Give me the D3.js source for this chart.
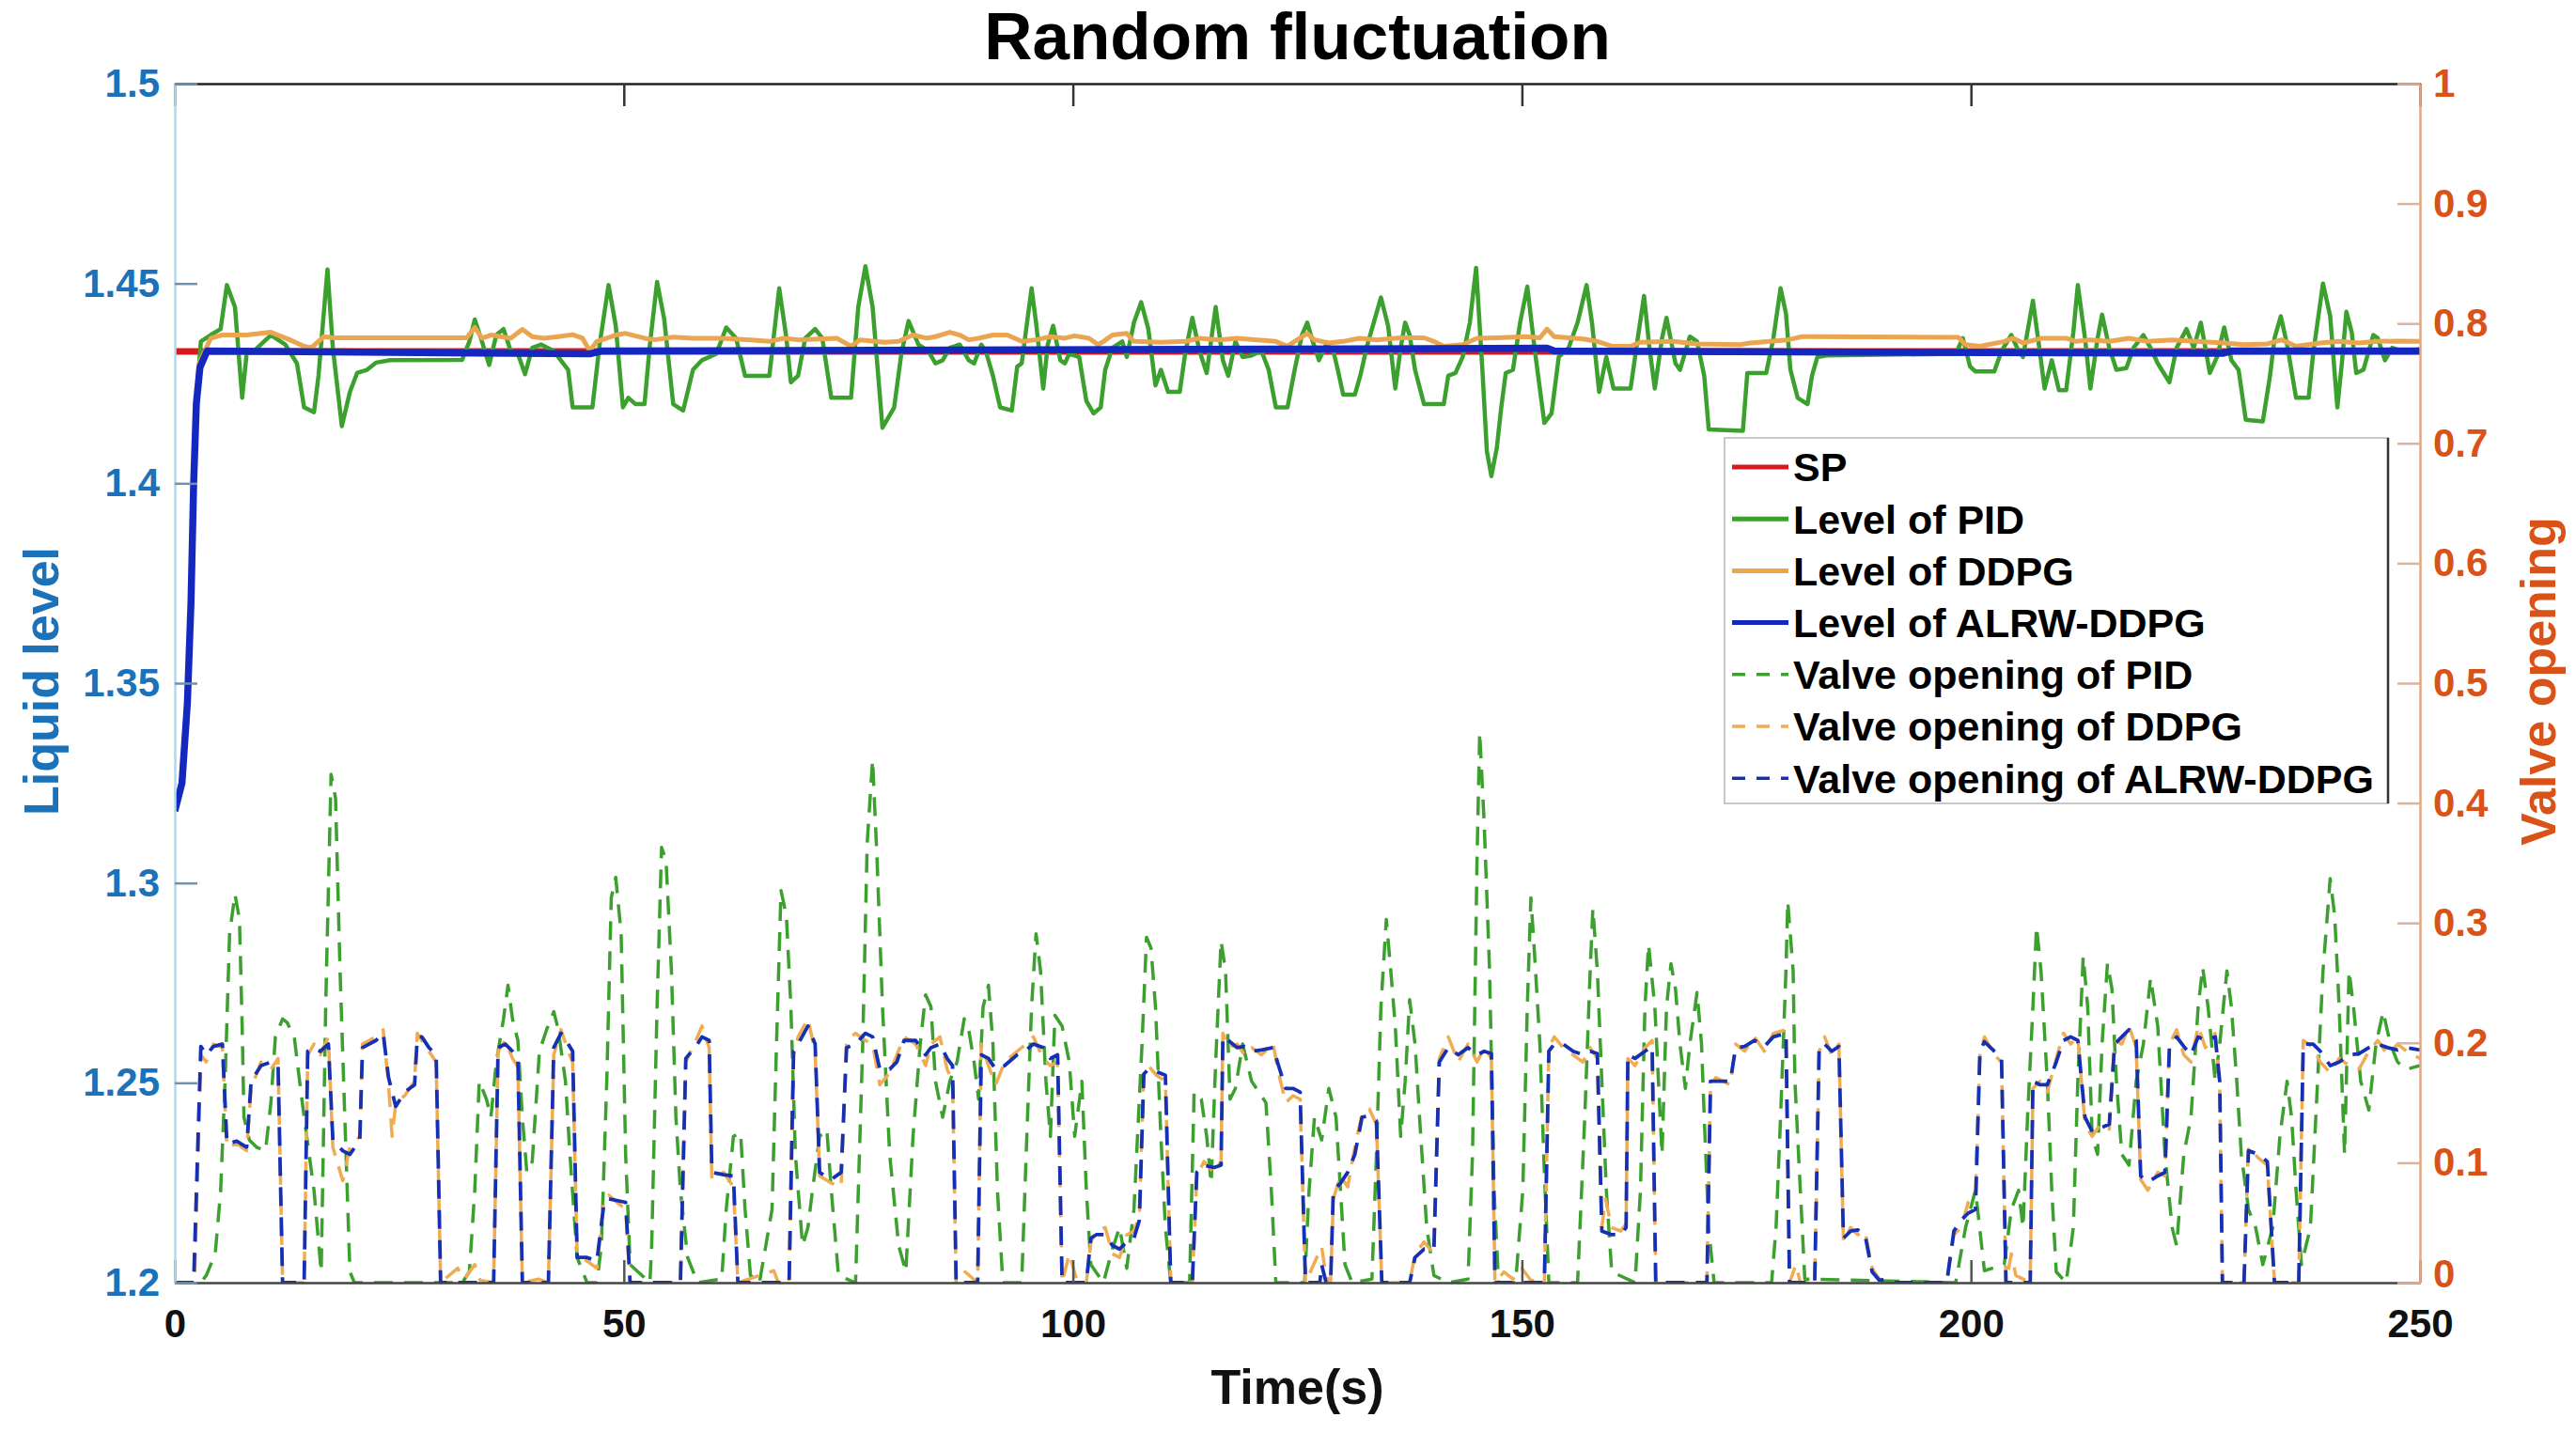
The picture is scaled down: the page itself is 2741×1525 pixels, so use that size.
<!DOCTYPE html>
<html>
<head>
<meta charset="utf-8">
<script src="https://cdn.jsdelivr.net/npm/d3@7"></script>
<style>
  body { margin: 0; background: #fff; }
  text { font-family: "Liberation Sans", Arial, sans-serif; font-weight: bold; }
</style>
</head>
<body>
<div id="chart"></div>
<script>
// ---- data: [time (s), value] ----
const spLevel = [[0, 1.433], [250, 1.433]];

const alrwLevel = [[0, 1.318], [0.8, 1.325], [1.4, 1.345], [1.8, 1.37], [2.1, 1.40], [2.4, 1.42], [2.8, 1.429],
  [3.6, 1.4331], [46.2, 1.4324], [47.5, 1.4331], [152.8, 1.4338], [153.6, 1.4331], [228.0, 1.4325], [229.0, 1.4331], [250, 1.4331]];

const pidLevel = [[0, 1.318], [0.8, 1.325], [1.4, 1.345], [1.8, 1.37], [2.1, 1.40], [2.4, 1.42], [2.9, 1.4355], [4.0, 1.4371],
  [5.1, 1.4386], [5.8, 1.4496], [6.7, 1.4441], [7.5, 1.4214], [8.0, 1.4324], [8.8, 1.4331], [10.7, 1.4371], [12.3, 1.4347],
  [13.6, 1.4300], [14.4, 1.4190], [15.5, 1.4178], [16.0, 1.4269], [17.0, 1.4535], [17.6, 1.4339], [18.6, 1.4143], [19.5, 1.4229],
  [20.3, 1.4276], [21.4, 1.4284], [22.4, 1.4302], [24.0, 1.4308], [32.0, 1.4309], [32.8, 1.4355], [33.4, 1.4410], [34.2, 1.4355],
  [35.0, 1.4296], [35.8, 1.4371], [36.6, 1.4386], [37.4, 1.4331], [38.2, 1.4324], [39.0, 1.4273], [39.8, 1.4339], [40.8, 1.4347],
  [42.2, 1.4331], [43.8, 1.4284], [44.3, 1.4190], [46.5, 1.4190], [47.3, 1.4347], [48.3, 1.4496], [49.1, 1.4394], [49.9, 1.4190],
  [50.5, 1.4214], [51.3, 1.4198], [52.3, 1.4198], [52.9, 1.4347], [53.7, 1.4504], [54.5, 1.4410], [55.5, 1.4198], [56.6, 1.4182],
  [57.7, 1.4284], [58.7, 1.4308], [60.3, 1.4324], [61.4, 1.4390], [62.5, 1.4363], [63.5, 1.4269], [66.2, 1.4269], [67.3, 1.4488],
  [68.1, 1.4363], [68.6, 1.4253], [69.4, 1.4269], [70.2, 1.4363], [71.3, 1.4386], [72.1, 1.4363], [73.1, 1.4214], [75.3, 1.4214],
  [76.1, 1.4441], [76.9, 1.4543], [77.7, 1.4441], [78.8, 1.4139], [80.1, 1.4190], [80.9, 1.4324], [81.7, 1.4406], [82.8, 1.4347],
  [83.9, 1.4331], [84.7, 1.4300], [85.5, 1.4308], [86.3, 1.4339], [87.4, 1.4347], [88.4, 1.4308], [89.0, 1.4300], [89.8, 1.4347],
  [90.3, 1.4331], [91.1, 1.4269], [91.9, 1.4190], [93.2, 1.4182], [93.8, 1.4292], [94.3, 1.4300], [95.4, 1.4488], [95.9, 1.4402],
  [96.7, 1.4237], [97.2, 1.4347], [97.8, 1.4394], [98.6, 1.4308], [99.1, 1.4300], [99.6, 1.4324], [100.7, 1.4316], [101.5, 1.4206],
  [102.3, 1.4175], [103.1, 1.4190], [103.6, 1.4284], [104.4, 1.4339], [105.5, 1.4355], [106.0, 1.4316], [106.8, 1.4402], [107.6, 1.4453],
  [108.4, 1.4386], [109.2, 1.4245], [109.8, 1.4284], [110.6, 1.4229], [111.9, 1.4229], [112.5, 1.4324], [113.3, 1.4414], [114.1, 1.4331],
  [114.9, 1.4276], [115.9, 1.4441], [116.7, 1.4308], [117.3, 1.4269], [118.1, 1.4355], [118.9, 1.4316], [119.9, 1.4320], [121.0, 1.4331],
  [121.8, 1.4284], [122.6, 1.4190], [123.9, 1.4190], [124.7, 1.4284], [125.5, 1.4371], [126.1, 1.4402], [126.6, 1.4363], [127.4, 1.4308],
  [128.2, 1.4347], [129.0, 1.4331], [129.5, 1.4284], [130.1, 1.4222], [131.4, 1.4222], [132.0, 1.4269], [132.7, 1.4339], [133.5, 1.4402],
  [134.3, 1.4465], [135.1, 1.4394], [135.9, 1.4237], [136.5, 1.4339], [137.0, 1.4402], [137.5, 1.4371], [138.1, 1.4284], [139.1, 1.4198],
  [141.3, 1.4198], [141.8, 1.4269], [142.6, 1.4276], [143.4, 1.4316], [144.2, 1.4402], [144.9, 1.4539], [145.6, 1.4284], [146.1, 1.4080],
  [146.6, 1.4018], [147.2, 1.4088], [147.7, 1.4190], [148.2, 1.4276], [149.0, 1.4284], [149.8, 1.4402], [150.6, 1.4492], [151.4, 1.4339],
  [152.5, 1.4151], [153.3, 1.4175], [154.1, 1.4316], [155.2, 1.4339], [156.2, 1.4402], [157.2, 1.4496], [157.8, 1.4402], [158.6, 1.4229],
  [159.4, 1.4316], [160.2, 1.4237], [162.1, 1.4237], [162.9, 1.4363], [163.6, 1.4469], [164.2, 1.4339], [164.8, 1.4237], [165.6, 1.4363],
  [166.1, 1.4414], [167.1, 1.4300], [167.6, 1.4284], [168.7, 1.4367], [169.5, 1.4355], [170.3, 1.4269], [170.8, 1.4135], [174.6, 1.4131],
  [175.1, 1.4276], [177.2, 1.4276], [178.0, 1.4363], [178.8, 1.4488], [179.4, 1.4425], [179.9, 1.4284], [180.7, 1.4214], [181.8, 1.4198],
  [182.3, 1.4269], [182.9, 1.4316], [183.9, 1.4320], [198.3, 1.4324], [199.1, 1.4363], [199.9, 1.4292], [200.5, 1.4280], [202.6, 1.4280],
  [203.4, 1.4331], [204.5, 1.4371], [205.3, 1.4331], [205.8, 1.4316], [206.9, 1.4457], [207.7, 1.4324], [208.2, 1.4237], [209.0, 1.4308],
  [209.8, 1.4233], [210.6, 1.4233], [211.4, 1.4378], [211.9, 1.4496], [212.7, 1.4363], [213.3, 1.4237], [214.1, 1.4363], [214.6, 1.4422],
  [215.4, 1.4339], [216.2, 1.4284], [217.3, 1.4288], [218.1, 1.4339], [219.2, 1.4371], [220.0, 1.4339], [220.8, 1.4300], [222.1, 1.4253],
  [222.9, 1.4339], [224.0, 1.4386], [224.8, 1.4339], [225.6, 1.4402], [226.6, 1.4276], [227.4, 1.4316], [228.2, 1.4390], [229.0, 1.4308],
  [229.8, 1.4284], [230.6, 1.4159], [232.5, 1.4155], [233.3, 1.4269], [233.8, 1.4363], [234.5, 1.4418], [235.2, 1.4347], [236.2, 1.4214],
  [237.6, 1.4214], [238.1, 1.4324], [239.2, 1.4500], [240.0, 1.4418], [240.8, 1.4190], [241.3, 1.4300], [241.8, 1.4429], [242.4, 1.4378],
  [242.9, 1.4276], [243.7, 1.4284], [244.8, 1.4371], [245.3, 1.4363], [246.1, 1.4308], [246.9, 1.4339], [248.0, 1.4331], [250.0, 1.4335]];

const ddpgLevel = [[0, 1.318], [0.8, 1.325], [1.4, 1.345], [1.8, 1.37], [2.1, 1.40], [2.4, 1.42], [2.7, 1.4300], [4.0, 1.4363],
  [5.3, 1.4371], [8.0, 1.4371], [10.7, 1.4378], [12.8, 1.4359], [14.4, 1.4343], [15.2, 1.4339], [16.6, 1.4367], [17.6, 1.4364],
  [32.5, 1.4364], [33.4, 1.4390], [34.2, 1.4363], [35.2, 1.4371], [37.4, 1.4363], [38.7, 1.4385], [39.8, 1.4367], [41.1, 1.4363],
  [42.7, 1.4367], [44.3, 1.4372], [45.4, 1.4363], [46.2, 1.4331], [47.0, 1.4355], [49.1, 1.4371], [50.2, 1.4375], [52.3, 1.4363],
  [53.4, 1.4359], [55.5, 1.4366], [57.7, 1.4363], [60.9, 1.4363], [64.1, 1.4359], [66.2, 1.4355], [67.8, 1.4363], [69.4, 1.4359],
  [73.7, 1.4363], [75.3, 1.4343], [76.3, 1.4359], [79.0, 1.4353], [80.6, 1.4355], [82.2, 1.4371], [83.7, 1.4363], [84.7, 1.4367],
  [86.3, 1.4378], [87.4, 1.4371], [88.4, 1.4359], [89.5, 1.4363], [91.1, 1.4371], [92.7, 1.4371], [94.3, 1.4355], [95.9, 1.4359],
  [97.5, 1.4367], [99.1, 1.4363], [100.2, 1.4369], [101.8, 1.4363], [102.8, 1.4347], [103.4, 1.4355], [104.4, 1.4371], [106.0, 1.4375],
  [106.8, 1.4355], [109.8, 1.4353], [112.5, 1.4355], [114.1, 1.4363], [116.2, 1.4359], [118.3, 1.4363], [120.5, 1.4359], [122.6, 1.4355],
  [123.9, 1.4343], [124.7, 1.4355], [126.1, 1.4375], [126.9, 1.4359], [128.5, 1.4351], [130.1, 1.4355], [131.9, 1.4363], [133.8, 1.4359],
  [136.5, 1.4364], [139.1, 1.4364], [140.2, 1.4355], [141.3, 1.4343], [143.4, 1.4347], [145.0, 1.4363], [147.2, 1.4364], [150.4, 1.4367],
  [152.0, 1.4364], [152.8, 1.4386], [153.6, 1.4367], [156.8, 1.4361], [158.4, 1.4355], [160.0, 1.4343], [162.1, 1.4343], [163.2, 1.4353],
  [166.8, 1.4355], [169.5, 1.4349], [174.3, 1.4347], [175.4, 1.4351], [179.6, 1.4359], [181.2, 1.4367], [182.3, 1.4367], [198.6, 1.4365],
  [199.4, 1.4347], [201.0, 1.4343], [203.7, 1.4355], [204.7, 1.4363], [205.8, 1.4351], [207.9, 1.4363], [210.6, 1.4363], [211.7, 1.4355],
  [213.3, 1.4359], [215.4, 1.4355], [217.6, 1.4363], [219.7, 1.4355], [222.4, 1.4359], [225.0, 1.4355], [228.2, 1.4351], [230.4, 1.4347],
  [233.0, 1.4349], [234.6, 1.4359], [236.2, 1.4343], [238.9, 1.4351], [241.0, 1.4355], [243.2, 1.4351], [245.3, 1.4355], [247.5, 1.4356],
  [250.0, 1.4355]];

const pidValve = [[0, 0], [2.9, 0], [3.5, 0.006], [4.5, 0.024], [5.1, 0.076], [5.6, 0.168], [6.1, 0.291], [6.7, 0.324], [7.2, 0.303],
  [7.5, 0.214], [7.7, 0.138], [8.3, 0.119], [9.1, 0.113], [10.1, 0.110], [10.7, 0.150], [11.2, 0.205], [12.0, 0.220], [12.5, 0.217],
  [13.3, 0.205], [13.9, 0.168], [14.4, 0.138], [15.5, 0.077], [16.3, 0.009], [16.8, 0.230], [17.4, 0.424], [17.9, 0.404], [18.4, 0.260],
  [19.0, 0.122], [19.5, 0.009], [20.0, 0], [32.0, 0], [32.8, 0.009], [33.4, 0.077], [33.9, 0.168], [34.7, 0.153], [35.2, 0.138],
  [35.8, 0.184], [36.6, 0.220], [37.1, 0.248], [37.6, 0.220], [38.2, 0.202], [38.7, 0.138], [39.2, 0.092], [39.8, 0.101], [40.6, 0.193],
  [41.4, 0.211], [42.2, 0.226], [42.7, 0.211], [43.5, 0.168], [44.0, 0.107], [44.8, 0.021], [45.9, 0], [47.0, 0], [47.5, 0.031],
  [48.1, 0.168], [48.6, 0.321], [49.1, 0.338], [49.7, 0.291], [50.2, 0.107], [50.7, 0.015], [52.9, 0], [53.1, 0.031], [53.7, 0.230],
  [54.2, 0.363], [54.7, 0.352], [55.3, 0.260], [55.8, 0.138], [56.3, 0.077], [57.1, 0.021], [58.2, 0], [60.9, 0.003], [61.4, 0.061],
  [62.2, 0.122], [63.0, 0.125], [63.5, 0.061], [64.1, 0.006], [65.1, 0], [66.5, 0.061], [67.0, 0.199], [67.5, 0.327], [68.1, 0.306],
  [68.6, 0.230], [69.1, 0.107], [69.9, 0.031], [70.5, 0.046], [71.0, 0.077], [71.8, 0.122], [72.6, 0.128], [73.1, 0.077], [73.9, 0.006],
  [75.8, 0], [76.6, 0.199], [77.1, 0.367], [77.7, 0.436], [78.2, 0.352], [78.8, 0.230], [79.6, 0.107], [80.6, 0.031], [81.4, 0.009],
  [82.2, 0.122], [83.0, 0.199], [83.6, 0.240], [84.2, 0.230], [84.7, 0.168], [85.5, 0.138], [86.3, 0.168], [87.1, 0.184], [87.9, 0.220],
  [88.4, 0.211], [89.0, 0.184], [89.5, 0.153], [90.0, 0.230], [90.6, 0.248], [91.1, 0.199], [91.6, 0.077], [92.2, 0], [94.3, 0],
  [94.8, 0.107], [95.4, 0.230], [95.9, 0.291], [96.4, 0.260], [97.0, 0.168], [97.5, 0.122], [98.0, 0.223], [98.8, 0.214], [99.6, 0.184],
  [100.2, 0.122], [101.0, 0.168], [101.5, 0.077], [102.0, 0.015], [103.4, 0], [104.4, 0.028], [105.2, 0.046], [106.0, 0.012], [106.8, 0.061],
  [107.7, 0.199], [108.2, 0.288], [108.7, 0.279], [109.2, 0.230], [109.8, 0.122], [110.3, 0.046], [110.9, 0], [113.0, 0], [113.5, 0.159],
  [114.3, 0.153], [114.9, 0.122], [115.4, 0.083], [115.9, 0.184], [116.5, 0.285], [117.0, 0.260], [117.5, 0.153], [118.1, 0.162],
  [118.9, 0.199], [119.9, 0.168], [120.7, 0.159], [121.5, 0.150], [122.1, 0.077], [122.6, 0], [125.8, 0], [126.3, 0.077], [126.9, 0.138],
  [127.7, 0.119], [128.5, 0.162], [129.3, 0.138], [129.8, 0.077], [130.3, 0.015], [131.1, 0], [133.3, 0.003], [133.8, 0.107], [134.3, 0.230],
  [134.9, 0.303], [135.4, 0.260], [135.9, 0.214], [136.5, 0.122], [137.0, 0.168], [137.5, 0.236], [138.1, 0.199], [138.6, 0.138],
  [139.4, 0.046], [140.2, 0.006], [141.8, 0], [144.0, 0.003], [144.5, 0.107], [145.0, 0.352], [145.3, 0.459], [145.8, 0.383], [146.4, 0.260],
  [146.9, 0.077], [147.4, 0], [149.3, 0], [150.1, 0.077], [150.6, 0.230], [151.0, 0.321], [151.4, 0.275], [152.0, 0.199], [152.5, 0.092],
  [153.0, 0], [156.2, 0], [157.0, 0.138], [157.6, 0.260], [157.9, 0.312], [158.4, 0.260], [158.9, 0.168], [159.4, 0.077], [160.0, 0.009],
  [162.6, 0], [163.2, 0.077], [163.7, 0.230], [164.1, 0.282], [164.8, 0.230], [165.6, 0.107], [166.1, 0.230], [166.6, 0.266], [167.1, 0.245],
  [167.6, 0.199], [168.2, 0.162], [168.7, 0.199], [169.5, 0.242], [170.0, 0.199], [170.3, 0.138], [170.8, 0.045], [171.4, 0], [177.8, 0],
  [178.3, 0.046], [178.8, 0.138], [179.4, 0.260], [179.6, 0.318], [180.2, 0.260], [180.4, 0.168], [181.0, 0.077], [181.5, 0.003],
  [198.3, 0], [199.4, 0.046], [200.5, 0.077], [201.5, 0.010], [203.7, 0.015], [204.5, 0.061], [205.3, 0.077], [205.8, 0.046], [206.3, 0.138],
  [206.9, 0.230], [207.3, 0.297], [207.8, 0.260], [208.5, 0.168], [209.0, 0.077], [209.5, 0.009], [210.6, 0], [211.4, 0.046], [211.9, 0.168],
  [212.5, 0.272], [213.0, 0.230], [213.5, 0.122], [214.1, 0.107], [214.6, 0.199], [215.2, 0.266], [215.7, 0.245], [216.2, 0.168],
  [216.8, 0.107], [217.6, 0.098], [218.4, 0.168], [219.2, 0.199], [220.0, 0.254], [220.8, 0.214], [221.6, 0.107], [222.4, 0.046],
  [222.9, 0.031], [223.7, 0.107], [224.5, 0.138], [225.3, 0.230], [225.8, 0.263], [226.4, 0.230], [227.2, 0.168], [227.7, 0.199],
  [228.5, 0.260], [229.0, 0.230], [229.6, 0.168], [230.1, 0.107], [230.9, 0.061], [231.7, 0.046], [232.5, 0.015], [233.6, 0.046],
  [234.4, 0.122], [235.2, 0.168], [235.7, 0.138], [236.2, 0.077], [236.8, 0.015], [237.8, 0.046], [238.4, 0.138], [239.2, 0.260],
  [240.0, 0.337], [240.5, 0.306], [241.0, 0.230], [241.6, 0.107], [242.1, 0.260], [242.6, 0.230], [243.4, 0.168], [244.3, 0.144],
  [245.1, 0.199], [245.9, 0.226], [246.7, 0.199], [247.5, 0.184], [248.5, 0.178], [250, 0.181]];

const ddpgValve = [[0, 0], [2.2, 0], [2.9, 0.190], [3.5, 0.184], [4.3, 0.199], [5.3, 0.196], [5.8, 0.113], [6.9, 0.116], [8.0, 0.110],
  [8.5, 0.162], [9.6, 0.184], [10.7, 0.178], [11.5, 0.187], [12.0, 0], [14.4, 0], [14.8, 0.190], [15.5, 0.199], [16.2, 0.190],
  [17.1, 0.205], [17.6, 0.113], [18.7, 0.085], [19.5, 0.113], [20.6, 0.122], [20.9, 0.199], [22.4, 0.205], [23.2, 0.211], [23.8, 0.165],
  [24.2, 0.122], [24.6, 0.150], [25.6, 0.156], [26.7, 0.168], [27.0, 0.208], [27.5, 0.202], [28.3, 0.193], [29.1, 0.184], [29.6, 0],
  [31.5, 0.012], [32.2, 0.003], [33.4, 0.015], [34.0, 0.002], [35.5, 0], [36.0, 0.193], [36.8, 0.202], [37.6, 0.187], [38.2, 0.180],
  [38.7, 0], [40.5, 0.003], [41.6, 0], [42.2, 0.190], [43.0, 0.211], [43.8, 0.193], [44.3, 0.184], [44.8, 0.024], [45.9, 0.018],
  [47.0, 0.012], [47.8, 0.070], [48.3, 0.073], [50.2, 0.061], [50.7, 0], [56.3, 0], [56.9, 0.184], [58.2, 0.205], [58.7, 0.214],
  [59.5, 0.196], [59.8, 0.086], [61.1, 0.092], [62.2, 0.080], [62.7, 0], [66.7, 0.010], [67.2, 0], [68.4, 0], [68.9, 0.190], [69.4, 0.205],
  [70.5, 0.220], [71.3, 0.193], [71.8, 0.089], [73.1, 0.083], [74.2, 0.080], [74.8, 0.202], [75.8, 0.208], [76.9, 0.202], [77.7, 0.199],
  [78.5, 0.165], [79.6, 0.175], [80.4, 0.190], [81.2, 0.205], [82.5, 0.199], [83.6, 0.181], [84.2, 0.199], [85.2, 0.205], [86.0, 0.178],
  [86.6, 0.168], [87.0, 0], [88.0, 0.009], [89.4, 0], [89.8, 0.199], [90.6, 0.181], [91.4, 0.165], [92.4, 0.184], [93.8, 0.193],
  [94.8, 0.199], [95.6, 0.205], [96.7, 0.187], [97.5, 0.181], [98.3, 0.184], [98.8, 0], [99.6, 0.024], [100.4, 0.003], [101.5, 0],
  [102.0, 0.034], [102.6, 0.043], [103.6, 0.046], [104.4, 0.024], [105.2, 0.021], [106.0, 0.040], [106.8, 0.043], [107.4, 0.055],
  [107.9, 0.178], [108.4, 0.181], [109.3, 0.173], [110.3, 0.168], [110.9, 0], [113.3, 0], [113.8, 0.089], [114.6, 0.101], [115.7, 0.092],
  [116.5, 0.101], [116.7, 0.208], [117.3, 0.196], [118.3, 0.199], [119.1, 0.190], [119.9, 0.196], [121.0, 0.190], [122.3, 0.199],
  [122.9, 0.175], [123.7, 0.150], [124.5, 0.156], [125.3, 0.153], [125.9, 0], [127.7, 0.030], [128.2, 0.005], [128.7, 0], [129.0, 0.070],
  [129.8, 0.089], [130.6, 0.080], [131.4, 0.113], [132.2, 0.141], [133.0, 0.145], [133.8, 0.132], [134.4, 0], [137.5, 0], [138.1, 0.024],
  [139.1, 0.034], [140.2, 0.024], [140.8, 0.187], [141.8, 0.205], [142.9, 0.184], [144.0, 0.199], [145.0, 0.184], [145.8, 0.196],
  [146.6, 0.187], [147.0, 0], [148.0, 0.009], [149.0, 0.003], [150.0, 0.012], [151.0, 0.002], [152.5, 0], [153.0, 0.196], [153.6, 0.205],
  [154.6, 0.196], [155.7, 0.190], [156.8, 0.184], [157.6, 0.196], [158.4, 0.187], [158.9, 0.046], [159.3, 0.070], [160.0, 0.046],
  [161.0, 0.043], [161.6, 0.049], [161.8, 0.187], [162.6, 0.181], [163.7, 0.196], [164.5, 0.202], [164.9, 0], [170.6, 0], [171.0, 0.165],
  [171.6, 0.171], [173.2, 0.165], [173.8, 0.199], [174.8, 0.193], [175.9, 0.205], [177.0, 0.193], [178.0, 0.208], [179.4, 0.211],
  [179.8, 0], [180.5, 0.015], [181.0, 0], [182.6, 0], [183.1, 0.193], [183.7, 0.205], [184.5, 0.190], [185.3, 0.199], [185.8, 0.034],
  [186.6, 0.046], [187.4, 0.040], [188.2, 0.043], [189.0, 0.012], [189.8, 0.003], [191.5, 0], [197.3, 0], [198.1, 0.040], [198.9, 0.046],
  [199.7, 0.067], [200.5, 0.073], [201.0, 0.190], [201.5, 0.205], [202.6, 0.190], [203.4, 0.184], [203.9, 0], [204.5, 0.024], [205.0, 0.006],
  [206.6, 0], [206.9, 0.162], [207.7, 0.168], [208.5, 0.159], [209.5, 0.187], [210.3, 0.208], [211.1, 0.199], [211.9, 0.205], [212.7, 0.132],
  [213.5, 0.122], [214.4, 0.132], [215.4, 0.128], [216.0, 0.202], [216.8, 0.199], [217.6, 0.214], [218.4, 0.196], [218.9, 0.086],
  [219.7, 0.077], [220.8, 0.092], [221.6, 0.089], [222.1, 0.199], [222.9, 0.211], [223.7, 0.190], [224.5, 0.184], [225.3, 0.214],
  [226.1, 0.196], [227.2, 0.208], [227.7, 0.162], [228.0, 0], [230.4, 0], [230.9, 0.113], [232.0, 0.104], [233.0, 0.098], [233.8, 0],
  [236.5, 0], [237.0, 0.202], [238.1, 0.196], [238.9, 0.184], [240.0, 0.175], [241.0, 0.187], [242.1, 0.181], [243.2, 0.178],
  [244.3, 0.193], [245.3, 0.202], [246.4, 0.190], [247.5, 0.199], [248.5, 0.193], [250, 0.187]];

const alrwValve = [[0, 0], [2.1, 0], [2.9, 0.197], [3.5, 0.190], [4.3, 0.197], [5.3, 0.199], [5.8, 0.116], [6.9, 0.118], [8.0, 0.113],
  [8.5, 0.168], [9.6, 0.181], [10.7, 0.184], [11.5, 0.181], [12.0, 0], [14.4, 0], [14.8, 0.193], [15.5, 0.196], [16.2, 0.193],
  [17.1, 0.199], [17.6, 0.119], [18.7, 0.110], [19.5, 0.107], [20.6, 0.119], [20.9, 0.196], [22.4, 0.202], [23.2, 0.208], [23.8, 0.171],
  [24.6, 0.147], [25.6, 0.159], [26.7, 0.165], [27.0, 0.205], [27.5, 0.205], [28.3, 0.196], [29.1, 0.190], [29.6, 0], [35.5, 0],
  [36.0, 0.196], [36.8, 0.199], [37.6, 0.193], [38.2, 0.187], [38.7, 0], [41.6, 0], [42.2, 0.196], [43.0, 0.208], [43.8, 0.199],
  [44.3, 0.193], [44.8, 0.021], [45.9, 0.021], [47.0, 0.018], [47.8, 0.067], [48.3, 0.070], [50.2, 0.067], [50.7, 0], [56.3, 0],
  [56.9, 0.187], [58.2, 0.199], [58.7, 0.205], [59.5, 0.202], [59.8, 0.092], [61.1, 0.090], [62.2, 0.089], [62.7, 0], [68.4, 0],
  [68.9, 0.193], [69.4, 0.199], [70.5, 0.214], [71.3, 0.199], [71.8, 0.092], [73.1, 0.086], [74.2, 0.092], [74.8, 0.196], [75.8, 0.199],
  [76.9, 0.208], [77.7, 0.205], [78.5, 0.178], [79.6, 0.178], [80.4, 0.184], [81.2, 0.202], [82.5, 0.202], [83.6, 0.190], [84.2, 0.196],
  [85.2, 0.199], [86.0, 0.187], [86.6, 0.181], [87.0, 0], [89.4, 0], [89.8, 0.190], [90.6, 0.187], [91.4, 0.178], [92.4, 0.181],
  [93.8, 0.190], [94.8, 0.194], [95.6, 0.199], [96.7, 0.196], [97.5, 0.187], [98.3, 0.190], [98.8, 0], [101.5, 0], [102.0, 0.037],
  [102.6, 0.040], [103.6, 0.040], [104.4, 0.031], [105.2, 0.028], [106.0, 0.034], [106.8, 0.037], [107.4, 0.052], [107.9, 0.174],
  [108.4, 0.178], [109.3, 0.176], [110.3, 0.173], [110.9, 0], [113.3, 0], [113.8, 0.092], [114.6, 0.098], [115.7, 0.096], [116.5, 0.098],
  [116.7, 0.205], [117.3, 0.202], [118.3, 0.196], [119.1, 0.197], [119.9, 0.193], [121.0, 0.194], [122.3, 0.196], [122.9, 0.181],
  [123.7, 0.162], [124.5, 0.162], [125.3, 0.159], [125.9, 0], [127.5, 0], [127.7, 0.015], [128.2, 0], [128.7, 0], [129.0, 0.077],
  [129.8, 0.083], [130.6, 0.092], [131.4, 0.107], [132.2, 0.138], [133.0, 0.139], [133.8, 0.135], [134.4, 0], [137.5, 0], [138.1, 0.021],
  [139.1, 0.028], [140.2, 0.028], [140.8, 0.184], [141.8, 0.196], [142.9, 0.190], [144.0, 0.196], [145.0, 0.190], [145.8, 0.193],
  [146.6, 0.191], [147.0, 0], [152.5, 0], [153.0, 0.193], [153.6, 0.199], [154.6, 0.199], [155.7, 0.193], [156.8, 0.190], [157.6, 0.193],
  [158.4, 0.191], [158.9, 0.043], [160.0, 0.040], [161.0, 0.040], [161.6, 0.046], [161.8, 0.190], [162.6, 0.187], [163.7, 0.193],
  [164.5, 0.197], [164.9, 0], [170.6, 0], [171.0, 0.168], [171.6, 0.168], [173.2, 0.168], [173.8, 0.196], [174.8, 0.197], [175.9, 0.202],
  [177.0, 0.197], [178.0, 0.205], [179.4, 0.208], [179.8, 0], [182.6, 0], [183.1, 0.197], [183.7, 0.199], [184.5, 0.193], [185.3, 0.197],
  [185.8, 0.037], [186.6, 0.043], [187.4, 0.044], [188.2, 0.040], [189.0, 0.009], [189.8, 0.002], [190.9, 0.003], [191.5, 0], [197.3, 0],
  [198.1, 0.043], [198.9, 0.052], [199.7, 0.058], [200.5, 0.061], [201.0, 0.193], [201.5, 0.201], [202.6, 0.193], [203.4, 0.188],
  [203.9, 0], [206.6, 0], [206.9, 0.168], [207.7, 0.165], [208.5, 0.165], [209.5, 0.184], [210.3, 0.202], [211.1, 0.205], [211.9, 0.202],
  [212.7, 0.138], [213.5, 0.126], [214.4, 0.129], [215.4, 0.132], [216.0, 0.199], [216.8, 0.205], [217.6, 0.211], [218.4, 0.202],
  [218.9, 0.089], [219.7, 0.084], [220.8, 0.089], [221.6, 0.092], [222.1, 0.196], [222.9, 0.205], [223.7, 0.197], [224.5, 0.190],
  [225.3, 0.205], [226.1, 0.202], [227.2, 0.205], [227.7, 0.168], [228.0, 0], [230.4, 0], [230.9, 0.110], [232.0, 0.107], [233.0, 0.101],
  [233.8, 0], [236.5, 0], [237.0, 0.199], [238.1, 0.199], [238.9, 0.193], [240.0, 0.181], [241.0, 0.184], [242.1, 0.190], [243.2, 0.191],
  [244.3, 0.196], [245.3, 0.199], [246.4, 0.196], [247.5, 0.194], [248.5, 0.196], [250, 0.194]];

const timeTicks = [0, 50, 100, 150, 200, 250];
const levelTicks = [1.2, 1.25, 1.3, 1.35, 1.4, 1.45, 1.5];
const valveTicks = [0, 0.1, 0.2, 0.3, 0.4, 0.5, 0.6, 0.7, 0.8, 0.9, 1];
const legendNames = ["SP", "Level of PID", "Level of DDPG", "Level of ALRW-DDPG",
  "Valve opening of PID", "Valve opening of DDPG", "Valve opening of ALRW-DDPG"];

// ---- layout ----
const width = 2741, height = 1525;
const plot = { left: 186, right: 2575, top: 89, bottom: 1365 };
const leftColor = "#1c72b8", rightColor = "#d95319";

const svg = d3.select("#chart").append("svg")
  .attr("width", width).attr("height", height);

const x = d3.scaleLinear().domain([0, 250]).range([plot.left, plot.right]);
const yL = d3.scaleLinear().domain([1.2, 1.5]).range([plot.bottom, plot.top]);
const yR = d3.scaleLinear().domain([0, 1]).range([plot.bottom, plot.top]);

svg.append("defs").append("clipPath").attr("id", "clip")
  .append("rect")
  .attr("x", plot.left).attr("y", plot.top)
  .attr("width", plot.right - plot.left).attr("height", plot.bottom - plot.top);

// series styles (drawing order follows the original plot)
const series = [
  { data: spLevel, y: yL, color: "#d7191c", w: 7, dash: null },
  { data: pidLevel, y: yL, color: "#3ca02e", w: 4.5, dash: null },
  { data: ddpgLevel, y: yL, color: "#eaa550", w: 5, dash: null },
  { data: alrwLevel, y: yL, color: "#1428c0", w: 7.5, dash: null },
  { data: pidValve, y: yR, color: "#3ca02e", w: 3.5, dash: "20,12" },
  { data: ddpgValve, y: yR, color: "#f0ac52", w: 3.5, dash: "20,12" },
  { data: alrwValve, y: yR, color: "#1630b4", w: 3.8, dash: "20,12" }
];

const gLines = svg.append("g").attr("clip-path", "url(#clip)");
series.forEach(s => {
  const line = d3.line().x(d => x(d[0])).y(d => s.y(d[1]));
  gLines.append("path")
    .datum(s.data)
    .attr("d", line)
    .attr("fill", "none")
    .attr("stroke", s.color)
    .attr("stroke-width", s.w)
    .attr("stroke-linejoin", "round")
    .attr("stroke-dasharray", s.dash);
});

// ---- axes ----
function styleAxis(g, lineColor, tickColor, textColor) {
  g.select(".domain").attr("stroke", lineColor).attr("stroke-width", 2.5);
  g.selectAll(".tick line").attr("stroke", tickColor).attr("stroke-width", 2.5);
  g.selectAll(".tick text")
    .attr("fill", textColor)
    .style("font-size", "42px")
    .style("font-family", "'Liberation Sans', Arial, sans-serif")
    .style("font-weight", "bold");
}

const fmt = d => String(+d.toFixed(2));

const topAxis = svg.append("g")
  .attr("transform", `translate(0,${plot.top})`)
  .call(d3.axisTop(x).tickValues(timeTicks).tickSize(-24).tickSizeOuter(0).tickFormat(""));
styleAxis(topAxis, "#222", "#333", "#000");

const bottomAxis = svg.append("g")
  .attr("transform", `translate(0,${plot.bottom})`)
  .call(d3.axisBottom(x).tickValues(timeTicks).tickSize(-24).tickSizeOuter(0).tickPadding(28).tickFormat(fmt));
styleAxis(bottomAxis, "#444", "#555", "#111");

const leftAxis = svg.append("g")
  .attr("transform", `translate(${plot.left},0)`)
  .call(d3.axisLeft(yL).tickValues(levelTicks).tickSize(-24).tickSizeOuter(0).tickPadding(16).tickFormat(fmt));
styleAxis(leftAxis, "#a8dcef", "#6f93ad", leftColor);

const rightAxis = svg.append("g")
  .attr("transform", `translate(${plot.right},0)`)
  .call(d3.axisRight(yR).tickValues(valveTicks).tickSize(-24).tickSizeOuter(0).tickPadding(14).tickFormat(fmt));
styleAxis(rightAxis, "#e2a684", "#d9b4a0", rightColor);
// the "0" label sits just above the corner, as in the original
rightAxis.selectAll(".tick text").filter(d => d === 0).attr("dy", "0.1em");

// ---- titles ----
svg.append("text")
  .attr("x", (plot.left + plot.right) / 2).attr("y", 63)
  .attr("text-anchor", "middle")
  .style("font-size", "71px")
  .text("Random fluctuation");

svg.append("text")
  .attr("x", (plot.left + plot.right) / 2).attr("y", 1494)
  .attr("text-anchor", "middle")
  .style("font-size", "52px").attr("fill", "#111")
  .text("Time(s)");

svg.append("text")
  .attr("transform", "translate(62,725) rotate(-90)")
  .attr("text-anchor", "middle")
  .style("font-size", "52px").attr("fill", leftColor)
  .text("Liquid level");

svg.append("text")
  .attr("transform", "translate(2719,725) rotate(-90)")
  .attr("text-anchor", "middle")
  .style("font-size", "52px").attr("fill", rightColor)
  .text("Valve opening");

// ---- legend ----
const legend = svg.append("g");
legend.append("rect")
  .attr("x", 1835).attr("y", 466)
  .attr("width", 2541 - 1835).attr("height", 855 - 466)
  .attr("fill", "#fff").attr("stroke", "#c8c8c8").attr("stroke-width", 2);
legend.append("line")
  .attr("x1", 2541).attr("x2", 2541).attr("y1", 466).attr("y2", 855)
  .attr("stroke", "#333").attr("stroke-width", 2.5);

legendNames.forEach((name, i) => {
  const s = series[i];
  const cy = 497 + i * 55.2;
  legend.append("line")
    .attr("x1", 1843).attr("x2", 1903).attr("y1", cy).attr("y2", cy)
    .attr("stroke", s.color)
    .attr("stroke-width", s.dash ? 3.5 : 5)
    .attr("stroke-dasharray", s.dash ? "14,12" : null);
  legend.append("text")
    .attr("x", 1908).attr("y", cy).attr("dy", "0.36em")
    .style("font-size", "43px").attr("fill", "#000")
    .text(name);
});
</script>
</body>
</html>
